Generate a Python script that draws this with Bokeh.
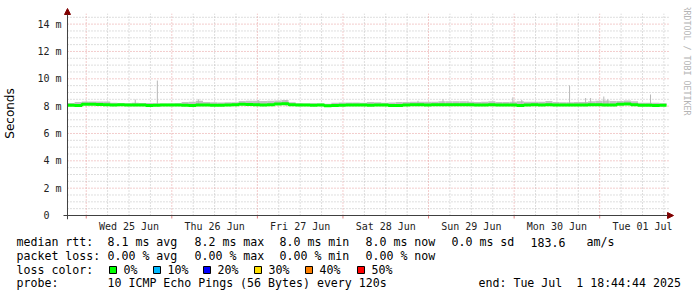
from datetime import datetime, timedelta
import math
from bokeh.plotting import figure
from bokeh.layouts import column
from bokeh.models import (Range1d, FixedTicker, Arrow, NormalHead, Label,
                          ColumnDataSource)
from bokeh.core.properties import value
from bokeh.embed import file_html
from bokeh.resources import INLINE

# ---------------- data ----------------
START = datetime(2025, 6, 24, 18, 44, 44)
END = datetime(2025, 7, 1, 18, 44, 44)
BIN_HOURS = 2

# median rtt (ms) per 2-hour bin, 84 bins
median_ms = [
    8.07, 8.05, 8.13, 8.14, 8.12, 8.10, 8.09, 8.10, 8.08, 8.09,
    8.08, 8.05, 8.06, 8.09, 8.08, 8.09, 8.07, 8.04, 8.08, 8.09,
    8.06, 8.07, 8.08, 8.10, 8.13, 8.12, 8.10, 8.09, 8.10, 8.15,
    8.17, 8.10, 8.08, 8.09, 8.07, 8.08, 8.02, 8.04, 8.07, 8.08,
    8.09, 8.08, 8.07, 8.08, 8.09, 8.04, 8.05, 8.08, 8.10, 8.10,
    8.09, 8.10, 8.11, 8.10, 8.10, 8.11, 8.10, 8.08, 8.09, 8.10,
    8.08, 8.09, 8.08, 8.04, 8.08, 8.10, 8.09, 8.10, 8.08, 8.09,
    8.08, 8.08, 8.09, 8.10, 8.10, 8.08, 8.09, 8.14, 8.15, 8.10,
    8.06, 8.06, 8.05, 8.06,
]

# upper edge of the smoke (ms) per 2-hour bin
smoke_top_ms = [
    8.23, 8.30, 8.34, 8.34, 8.34, 8.34, 8.25, 8.22, 8.22, 8.25,
    8.23, 8.23, 8.22, 8.20, 8.20, 8.22, 8.30, 8.33, 8.40, 8.30,
    8.28, 8.27, 8.28, 8.28, 8.38, 8.40, 8.40, 8.38, 8.40, 8.42,
    8.45, 8.28, 8.22, 8.20, 8.22, 8.20, 8.18, 8.25, 8.27, 8.26,
    8.27, 8.25, 8.30, 8.28, 8.25, 8.26, 8.30, 8.30, 8.32, 8.33,
    8.32, 8.33, 8.35, 8.35, 8.36, 8.35, 8.33, 8.30, 8.33, 8.35,
    8.30, 8.30, 8.32, 8.35, 8.32, 8.32, 8.33, 8.38, 8.30, 8.28,
    8.28, 8.30, 8.30, 8.35, 8.40, 8.42, 8.38, 8.38, 8.42, 8.35,
    8.25, 8.25, 8.24, 8.22,
]

# isolated smoke spikes: hours after start, max rtt (ms)
spike_hours = [19.0, 25.2, 36.7, 53.5, 61.3, 98.3, 105.3, 112.3,
               124.9, 127.4, 140.8, 145.3, 146.7, 150.4, 151.5, 163.5]
spike_ms = [8.49, 9.88, 8.50, 8.45, 8.45, 8.40, 8.50, 8.40,
            8.65, 8.45, 9.51, 8.60, 8.60, 8.70, 8.50, 8.85]

day_labels = ["Wed 25 Jun", "Thu 26 Jun", "Fri 27 Jun", "Sat 28 Jun",
              "Sun 29 Jun", "Mon 30 Jun", "Tue 01 Jul"]
y_tick_values = [0, 2, 4, 6, 8, 10, 12, 14]
y_tick_labels = ["0\u00a0\u00a0", "2 m", "4 m", "6 m", "8 m", "10 m", "12 m", "14 m"]

legend_rtt = [("median rtt:", 16), ("8.1 ms avg", 107), ("8.2 ms max", 194),
              ("8.0 ms min", 279), ("8.0 ms now", 365), ("0.0 ms sd", 451),
              ("183.6", 530), ("am/s", 586)]
legend_loss = [("packet loss:", 16), ("0.00 % avg", 107), ("0.00 % max", 194),
               ("0.00 % min", 279), ("0.00 % now", 365)]
loss_title = ("loss color:", 16)
loss_labels = ["0%", "10%", "20%", "30%", "40%", "50%"]
loss_colors = ["#00ff00", "#00b8ff", "#0000ff", "#ffe000", "#ff8000", "#ff0000"]
loss_box_x = [109, 153, 203, 254, 305, 357]
legend_probe = [("probe:", 16), ("10 ICMP Echo Pings (56 Bytes) every 120s", 107),
                ("end: Tue Jul\u00a0\u00a01 18:44:44 2025", 478)]
watermark = "RRDTOOL / TOBI OETIKER"

# ---------------- geometry (page pixels) ----------------
W, H = 697, 297
MAIN_H = 234
TOTAL_S = int((END - START).total_seconds())
X0_PX, X1_PX = 66, 666          # plot area, left/right
Y0_PX, PX_PER_MS = 215, 13.67   # pixel row of 0 ms, scale
FL, FR, FT, FB = 61, 697, 7, 219  # frame box


def hx(px):
    return (px - X0_PX) * TOTAL_S / (X1_PX - X0_PX)


def my(py):
    return (Y0_PX - py) / PX_PER_MS


def secs(dt):
    return int((dt - START).total_seconds())


Y_PLOT = my(13.3)
midnights = [secs(datetime(2025, 6, 25) + timedelta(days=k)) for k in range(7)]
noons = [secs(datetime(2025, 6, 25, 12) + timedelta(days=k)) for k in range(7)]
six_h = []
t = datetime(2025, 6, 24, 18)
while t < END:
    s = secs(t)
    if 0 <= s <= TOTAL_S and t.hour != 0:
        six_h.append(s)
    t += timedelta(hours=6)
y_major = [v for v in y_tick_values if v > 0]
y_minor = [v / 2 for v in range(1, 30) if v % 4 != 0]

p = figure(width=W, height=MAIN_H, output_backend="svg", toolbar_location=None,
           title=None, min_border_left=FL, min_border_right=W - FR,
           min_border_top=FT, min_border_bottom=MAIN_H - FB,
           x_range=Range1d(hx(FL), hx(FR)), y_range=Range1d(my(FB), my(FT)))
p.frame_align = False
p.outline_line_color = None
p.grid.visible = False
p.background_fill_color = "white"
p.border_fill_color = "white"

MAJ = "#e69a9a"
MIN = "#bdbdbd"
AX = "#404040"

# grid (inside the plot area)
p.segment(x0=six_h, x1=six_h, y0=[0] * len(six_h), y1=[Y_PLOT] * len(six_h),
          line_color=MIN, line_dash="1 2", line_width=1)
p.segment(x0=[0] * len(y_minor), x1=[hx(668)] * len(y_minor), y0=y_minor, y1=y_minor,
          line_color=MIN, line_dash="1 2", line_width=1)
p.segment(x0=midnights, x1=midnights, y0=[0] * 7, y1=[Y_PLOT] * 7,
          line_color=MAJ, line_dash="1 2", line_width=1)
p.segment(x0=[0] * len(y_major), x1=[hx(668)] * len(y_major), y0=y_major, y1=y_major,
          line_color=MAJ, line_dash="1 2", line_width=1)

# ---------------- data glyphs ----------------
bin_left = [i * BIN_HOURS * 3600 for i in range(len(median_ms))]
bin_right = [b + BIN_HOURS * 3600 for b in bin_left]
smoke = ColumnDataSource(dict(left=bin_left, right=bin_right,
                              bottom=median_ms, top=smoke_top_ms))
p.quad(left="left", right="right", bottom="bottom", top="top", source=smoke,
       fill_color="#c2c2c2", line_color=None)

spikes = ColumnDataSource(dict(x=[h * 3600 for h in spike_hours], top=spike_ms))
p.vbar(x="x", width=hx(67), bottom=8.0, top="top", source=spikes,
       fill_color="#b8b8b8", line_color=None)

sx, sy = [], []
for l, r, m in zip(bin_left, bin_right, median_ms):
    sx += [l, r]
    sy += [m, m]
p.line(sx, sy, line_color="#00ff00", line_width=3)

# small red ticks under the time axis at midnight
p.segment(x0=midnights, x1=midnights, y0=[0] * 7, y1=[my(218)] * 7,
          line_color="#e08080", line_width=1)

# axis lines with arrow heads
head = dict(size=6, fill_color="#800000", line_color="#800000")
p.add_layout(Arrow(x_start=0, y_start=my(219), x_end=0, y_end=my(8),
                   line_color=AX, line_width=1, end=NormalHead(**head)))
p.add_layout(Arrow(x_start=hx(62), y_start=0, x_end=hx(673), y_end=0,
                   line_color=AX, line_width=1, end=NormalHead(**head)))

# vertical credit text at the right edge
p.add_layout(Label(x=hx(686.5), y=my(60), text=watermark, angle=-math.pi / 2,
                   text_font="DejaVu Sans Mono", text_font_size="8.3px",
                   text_align="center", text_baseline="middle",
                   text_color="#b4b4b4"))

# axes (labels only)
p.xaxis.ticker = FixedTicker(ticks=noons)
p.xaxis.major_label_overrides = {n: lab for n, lab in zip(noons, day_labels)}
p.xaxis.major_label_standoff = 1
p.yaxis.ticker = FixedTicker(ticks=y_tick_values)
p.yaxis.major_label_overrides = {v: lab for v, lab in zip(y_tick_values, y_tick_labels)}
p.yaxis.major_label_standoff = 1
p.yaxis.axis_label = "Seconds"
p.yaxis.axis_label_standoff = 17
p.yaxis.axis_label_text_font = "DejaVu Sans"
p.yaxis.axis_label_text_font_size = "12px"
p.yaxis.axis_label_text_font_style = "normal"
p.yaxis.axis_label_text_color = "#000000"

for ax in (p.xaxis[0], p.yaxis[0]):
    ax.axis_line_color = None
    ax.major_tick_out = 0
    ax.major_tick_in = 0
    ax.minor_tick_out = 0
    ax.minor_tick_in = 0
    ax.major_label_text_font = "DejaVu Sans Mono"
    ax.major_label_text_font_size = "10px"
    ax.major_label_text_color = "#222222"

# ---------------- legend block below the graph ----------------
leg = figure(width=W, height=H - MAIN_H, output_backend="svg", toolbar_location=None,
             title=None, min_border=0, x_axis_location=None, y_axis_location=None,
             x_range=Range1d(0, W), y_range=Range1d(H, MAIN_H))
leg.frame_align = False
leg.outline_line_color = None
leg.grid.visible = False
leg.background_fill_color = "white"
leg.border_fill_color = "white"

rows = [(legend_rtt, 241.5), (legend_loss, 255.3), ([loss_title], 269),
        (legend_probe, 282.8)]
tx, ty, tt = [], [], []
for items, yy in rows:
    for text, x in items:
        tx.append(x)
        ty.append(yy)
        tt.append(text)
for text, bx in zip(loss_labels, loss_box_x):
    tx.append(bx + 14)
    ty.append(269)
    tt.append(text)
leg.text(x=tx, y=ty, text=tt, text_font=value("DejaVu Sans Mono"),
         text_font_size=value("11.6px"), text_baseline="middle", text_align="left",
         text_color="#000000")
leg.quad(left=loss_box_x, right=[b + 7 for b in loss_box_x],
         top=[266] * len(loss_box_x), bottom=[273] * len(loss_box_x),
         fill_color=loss_colors, line_color="black", line_width=1)

open("out.html", "w").write(file_html(column(p, leg), INLINE))
